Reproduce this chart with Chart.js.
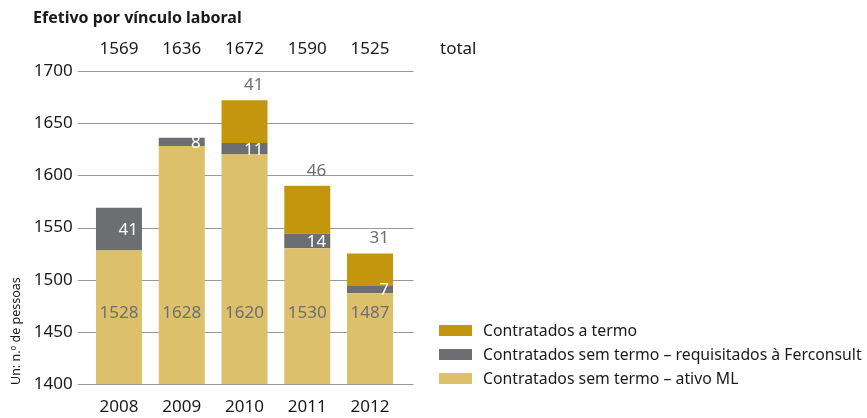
<!DOCTYPE html>
<html>
<head>
<meta charset="utf-8">
<script src="https://cdn.jsdelivr.net/npm/chart.js@4"></script>
<style>
  html, body { margin: 0; padding: 0; background: #fff; }
  #wrap { position: relative; width: 867px; height: 418px; }
</style>
</head>
<body>
<div id="wrap"><canvas id="vinculoChart"></canvas></div>
<script>
// Dados
const anos = ['2008', '2009', '2010', '2011', '2012'];
const ativoML = [1528, 1628, 1620, 1530, 1487];
const requisitados = [41, 8, 11, 14, 7];
const aTermo = [0, 0, 41, 46, 31];
const totais = [1569, 1636, 1672, 1590, 1525];
const yTicks = [1400, 1450, 1500, 1550, 1600, 1650, 1700];

const titulo = 'Efetivo por vínculo laboral';
const unidade = 'Un: n.º de pessoas';
const legendas = [
    'Contratados a termo',
    'Contratados sem termo – requisitados à Ferconsult',
    'Contratados sem termo – ativo ML'
];

const COR_ATIVO = '#dcc06c';
const COR_REQ = '#6d6e71';
const COR_TERMO = '#c4960e';
const FONTE = '"Noto Sans", sans-serif';

// Tudo o que não é barra é desenhado à mão
const decoracao = {
    id: 'decoracao',
    beforeDatasetsDraw(chart) {
        const { ctx, scales: { x, y }, chartArea } = chart;
        ctx.save();
        // linhas de grelha
        ctx.strokeStyle = '#9a9a9a';
        ctx.lineWidth = 1;
        yTicks.forEach(v => {
            const py = Math.round(y.getPixelForValue(v)) + 0.5;
            ctx.beginPath();
            ctx.moveTo(chartArea.left - 10, py);
            ctx.lineTo(chartArea.right + 12, py);
            ctx.stroke();
        });
        // rótulos do eixo y
        ctx.fillStyle = '#1a1a1a';
        ctx.font = '17px ' + FONTE;
        ctx.textAlign = 'right';
        ctx.textBaseline = 'middle';
        yTicks.forEach(v => {
            ctx.fillText(String(v), chartArea.left - 15, y.getPixelForValue(v));
        });
        // anos
        ctx.textAlign = 'center';
        anos.forEach((a, i) => {
            ctx.fillText(a, x.getPixelForValue(i), 407);
        });
        // totais
        totais.forEach((t, i) => {
            ctx.fillText(String(t), x.getPixelForValue(i), 49);
        });
        ctx.textAlign = 'left';
        ctx.fillText('total', 440, 49);
        // título
        ctx.font = 'bold 16px ' + FONTE;
        ctx.fillText(titulo, 33, 18);
        // unidade (rodada)
        ctx.save();
        ctx.translate(16, 385);
        ctx.rotate(-Math.PI / 2);
        ctx.font = '12.5px ' + FONTE;
        ctx.textAlign = 'left';
        ctx.fillText(unidade, 0, 0);
        ctx.restore();
        // legenda
        const cores = [COR_TERMO, COR_REQ, COR_ATIVO];
        const ys = [331, 355, 379];
        ctx.font = '15.8px ' + FONTE;
        legendas.forEach((txt, i) => {
            ctx.fillStyle = cores[i];
            ctx.fillRect(439, ys[i] - 6, 33, 11);
            ctx.fillStyle = '#1a1a1a';
            ctx.fillText(txt, 483, ys[i]);
        });
        ctx.restore();
    },
    afterDatasetsDraw(chart) {
        const { ctx, scales: { y } } = chart;
        const mAtivo = chart.getDatasetMeta(0).data;
        const mReq = chart.getDatasetMeta(1).data;
        const mTermo = chart.getDatasetMeta(2).data;
        ctx.save();
        ctx.font = '17px ' + FONTE;
        ctx.textBaseline = 'middle';
        anos.forEach((a, i) => {
            // ativo ML, posição fixa perto da base
            ctx.fillStyle = '#6d6e71';
            ctx.textAlign = 'center';
            ctx.fillText(String(ativoML[i]), mAtivo[i].x, y.getPixelForValue(1468));
            // requisitados, branco dentro do segmento
            const b = mReq[i];
            ctx.fillStyle = '#ffffff';
            ctx.textAlign = 'right';
            const right = b.x + b.width / 2 - 4;
            ctx.fillText(String(requisitados[i]), right, (b.y + b.base) / 2 + 1);
            // a termo, acima da barra
            if (aTermo[i] > 0) {
                const t = mTermo[i];
                ctx.fillStyle = '#6d6e71';
                ctx.fillText(String(aTermo[i]), right, t.y - 15);
            }
        });
        ctx.restore();
    }
};

new Chart(document.getElementById('vinculoChart'), {
    type: 'bar',
    data: {
        labels: anos,
        datasets: [
            { label: legendas[2], data: ativoML, backgroundColor: COR_ATIVO },
            { label: legendas[1], data: requisitados, backgroundColor: COR_REQ },
            { label: legendas[0], data: aTermo, backgroundColor: COR_TERMO }
        ]
    },
    options: {
        responsive: true,
        maintainAspectRatio: false,
        animation: false,
        layout: { padding: { left: 87.6, right: 465.6, top: 71, bottom: 34 } },
        datasets: { bar: { categoryPercentage: 1, barPercentage: 0.733 } },
        scales: {
            x: { stacked: true, display: false },
            y: { stacked: true, display: false, min: 1400, max: 1700 }
        },
        plugins: {
            legend: { display: false },
            tooltip: { enabled: false }
        }
    },
    plugins: [decoracao]
});
</script>
</body>
</html>
